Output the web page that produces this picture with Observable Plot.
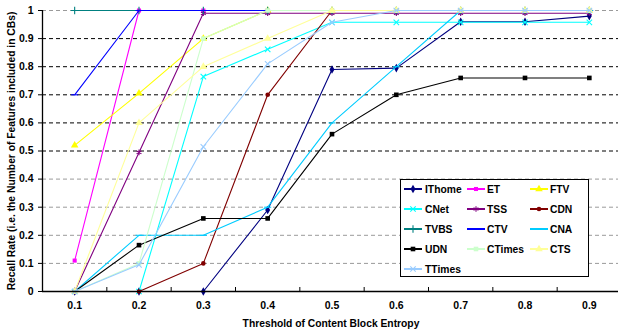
<!DOCTYPE html>
<html><head><meta charset="utf-8">
<script src="https://cdn.jsdelivr.net/npm/d3@7"></script>
<script src="https://cdn.jsdelivr.net/npm/@observablehq/plot@0.6"></script>
<style>
body{margin:0;background:#fff;}
#chart{width:618px;height:331px;overflow:hidden;}
svg{font-family:"Liberation Sans",Arial,sans-serif;}
</style></head><body><div id="chart"></div>
<script>
// ---- data ----
const thresholds = [0.1, 0.2, 0.3, 0.4, 0.5, 0.6, 0.7, 0.8, 0.9];
const IThome = [0, 0, 0, 0.29, 0.79, 0.795, 0.96, 0.96, 0.98];
const ET     = [0.11, 1, 1, 1, 1, 1, 1, 1, 1];
const FTV    = [0.52, 0.705, 0.9, 1, 1, 1, 1, 1, 1];
const CNet   = [0, 0, 0.765, 0.862, 0.958, 0.958, 0.958, 0.958, 0.958];
const TSS    = [0, 0.495, 0.99, 0.99, 0.99, 0.99, 0.99, 0.99, 0.99];
const CDN    = [0, 0, 0.1, 0.7, 1, 1, 1, 1, 1];
const TVBS   = [1, 1, 1, 1, 1, 1, 1, 1, 1];
const CTV    = [0.7, 1, 1, 1, 1, 1, 1, 1, 1];
const CNA    = [0, 0.2, 0.2, 0.3, 0.6, 0.8, 1, 1, 1];
const UDN    = [0, 0.165, 0.26, 0.26, 0.56, 0.70, 0.76, 0.76, 0.76];
const CTimes = [0, 0.1, 0.9, 1, 1, 1, 1, 1, 1];
const CTS    = [0, 0.6, 0.8, 0.9, 1, 1, 1, 1, 1];
const TTimes = [0, 0.095, 0.515, 0.81, 0.958, 1, 1, 1, 1];
const seriesNames = ["IThome","ET","FTV","CNet","TSS","CDN","TVBS","CTV","CNA","UDN","CTimes","CTS","TTimes"];
const seriesValues = [IThome, ET, FTV, CNet, TSS, CDN, TVBS, CTV, CNA, UDN, CTimes, CTS, TTimes];
const seriesColors = ["#000080","#ff00ff","#ffff00","#00ffff","#800080","#800000","#008080","#0000ff","#00ccff","#000000","#ccffcc","#ffff99","#99ccff"];
const yTicks = [0, 0.1, 0.2, 0.3, 0.4, 0.5, 0.6, 0.7, 0.8, 0.9, 1];
const xTickMarks = [0.15, 0.25, 0.35, 0.45, 0.55, 0.65, 0.75, 0.85];
const gridGray = [0.1, 0.2, 0.3, 0.4, 1];
const gridBlack = [0.5, 0.6, 0.7, 0.8, 0.9];
const yTitle = "Recall Rate (i.e. the Number of Features included in CBs)";
const xTitle = "Threshold of Content Block Entropy";

// ---- symbols ----
const dash = {draw(ctx, size){ const w = Math.sqrt(size) * 0.9; ctx.moveTo(-w, 0); ctx.lineTo(w, 0); }};
const seriesSymbols = [
  {s: d3.symbolDiamond, filled: true, r: 2.6},
  {s: d3.symbolSquare, filled: true, r: 2.3},
  {s: d3.symbolTriangle, filled: true, r: 2.8},
  {s: d3.symbolTimes, filled: false, r: 2.6},
  {s: d3.symbolAsterisk, filled: false, r: 2.6},
  {s: d3.symbolCircle, filled: true, r: 2.3},
  {s: d3.symbolPlus, filled: false, r: 2.6},
  {s: dash, filled: false, r: 2.2},
  {s: dash, filled: false, r: 2.2},
  {s: d3.symbolSquare, filled: true, r: 2.6},
  {s: d3.symbolSquare, filled: true, r: 2.6},
  {s: d3.symbolTriangle, filled: true, r: 2.8},
  {s: d3.symbolTimes, filled: false, r: 2.6}
];

const rows = [];
seriesNames.forEach((name, i) => seriesValues[i].forEach((v, j) => rows.push({series: name, x: thresholds[j], y: v, i})));

const marks = [
  Plot.ruleY(gridGray, {stroke: "#9a9a9a", strokeDasharray: "4,3"}),
  Plot.ruleY(gridBlack, {stroke: "#000", strokeDasharray: "4,3"}),
];
seriesNames.forEach((name, i) => {
  const d = rows.filter(r => r.series === name);
  const sym = seriesSymbols[i];
  marks.push(Plot.line(d, {x: "x", y: "y", stroke: seriesColors[i], strokeWidth: 1.1}));
  marks.push(Plot.dot(d, sym.filled
    ? {x: "x", y: "y", symbol: sym.s, r: sym.r, fill: seriesColors[i], stroke: "none"}
    : {x: "x", y: "y", symbol: sym.s, r: sym.r, stroke: seriesColors[i], fill: "none", strokeWidth: 1.1}));
});
marks.push(
  Plot.ruleY([0], {stroke: "#000", strokeWidth: 1.3}),
  Plot.ruleX([0.05], {stroke: "#000", strokeWidth: 1.3}),
  Plot.axisY({ticks: yTicks, tickFormat: d => d === 0 ? "0" : d === 1 ? "1" : d.toFixed(1), tickSize: 4, tickPadding: 5, fontWeight: "bold", fontSize: 10.5, label: null}),
  Plot.axisX({ticks: thresholds, tickSize: 0, tickPadding: 10, tickFormat: d => d.toFixed(1), fontWeight: "bold", fontSize: 10.5, label: null}),
  Plot.axisX({ticks: xTickMarks, tickSize: -4, tickFormat: () => "", label: null})
);

const plot = Plot.plot({
  width: 618, height: 331,
  marginTop: 10, marginBottom: 40, marginLeft: 42, marginRight: 0,
  x: {domain: [0.05, 0.95], range: [42, 621]},
  y: {domain: [0, 1]},
  style: {fontFamily: "'Liberation Sans', Arial, sans-serif", color: "#000", background: "#fff", overflow: "visible"},
  marks
});
document.getElementById("chart").appendChild(plot);

// ---- titles & legend ----
const svg = d3.select(plot);
svg.append("text").attr("transform", "translate(15,151) rotate(-90)").attr("text-anchor", "middle")
  .attr("font-size", 10.3).attr("font-weight", "bold").text(yTitle);
svg.append("text").attr("x", 331).attr("y", 327).attr("text-anchor", "middle")
  .attr("font-size", 10.3).attr("font-weight", "bold").text(xTitle);

const lg = svg.append("g").attr("text-anchor", "start");
lg.append("rect").attr("x", 400.5).attr("y", 179.5).attr("width", 188).attr("height", 97)
  .attr("fill", "#fff").attr("stroke", "#000").attr("stroke-width", 1);
const cols = [[404, 422, 425], [467, 485, 487], [530, 548, 550]];
const rowY = [189, 209, 229, 249, 269];
seriesNames.forEach((name, i) => {
  const c = cols[i % 3], y = rowY[Math.floor(i / 3)];
  const sym = seriesSymbols[i];
  const g = lg.append("g");
  g.append("line").attr("x1", c[0]).attr("x2", c[1]).attr("y1", y).attr("y2", y)
    .attr("stroke", seriesColors[i]).attr("stroke-width", 2);
  const p = g.append("path").attr("transform", `translate(${(c[0] + c[1]) / 2},${y})`)
    .attr("d", d3.symbol(sym.s, sym.r * sym.r * Math.PI)());
  if (sym.filled) p.attr("fill", seriesColors[i]); else p.attr("fill", "none").attr("stroke", seriesColors[i]).attr("stroke-width", 1.1);
  g.append("text").attr("x", c[2]).attr("y", y).attr("dy", "0.36em").attr("font-size", 10.3)
    .attr("text-anchor", "start").attr("font-weight", "bold").text(name);
});
</script></body></html>
